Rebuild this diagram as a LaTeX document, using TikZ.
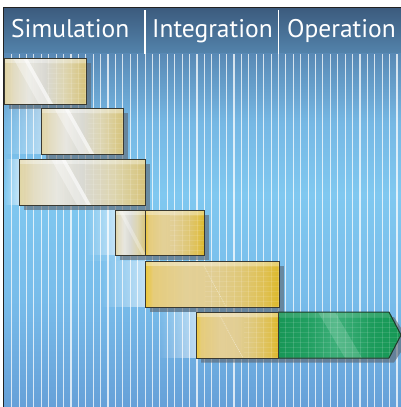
\documentclass[tikz,border=0pt]{standalone}
\usepackage{fontspec}
\setmainfont{PT Sans}
\usetikzlibrary{fadings}
\definecolor{frame}{HTML}{222222}
\definecolor{barline}{HTML}{3A3A32}
\definecolor{shadowc}{HTML}{5E6670}
\definecolor{greenline}{HTML}{1E3A28}
% body
\definecolor{bA}{HTML}{66A0D8}\definecolor{bB}{HTML}{78BCEA}\definecolor{bC}{HTML}{80C8F0}
\definecolor{bD}{HTML}{76B8E4}\definecolor{bE}{HTML}{5888B4}
% header
\definecolor{hA}{HTML}{5282AA}\definecolor{hB}{HTML}{3C5B7E}
% pale bar
\definecolor{pA}{HTML}{E6D6A0}\definecolor{pB}{HTML}{EAE2C6}\definecolor{pC}{HTML}{EEECE4}
\definecolor{pD}{HTML}{E0DED6}\definecolor{pE}{HTML}{E4DAB2}\definecolor{pF}{HTML}{DEC87A}
% gold bar
\definecolor{gA}{HTML}{F2C830}\definecolor{gB}{HTML}{ECD07A}\definecolor{gC}{HTML}{EAD496}
\definecolor{gD}{HTML}{E8D294}\definecolor{gE}{HTML}{E6CC78}\definecolor{gF}{HTML}{E6C44C}
\definecolor{gG}{HTML}{E4BC24}
% green bar
\definecolor{nA}{HTML}{179656}\definecolor{nB}{HTML}{22A062}\definecolor{nC}{HTML}{3CAE78}
\definecolor{nD}{HTML}{30A86E}\definecolor{nE}{HTML}{1C9C5C}\definecolor{nF}{HTML}{169855}
\pgfdeclareverticalshading{bodysh}{100bp}{%
  color(0bp)=(bA); color(25bp)=(bA); color(40bp)=(bB);
  color(55bp)=(bC); color(65bp)=(bD); color(75bp)=(bE); color(100bp)=(bE)}
\pgfdeclareverticalshading{headsh}{100bp}{%
  color(0bp)=(hA); color(25bp)=(hA); color(75bp)=(hB); color(100bp)=(hB)}
\pgfdeclarehorizontalshading{palebar}{100bp}{%
  color(0bp)=(pA); color(25bp)=(pA); color(31bp)=(pB);
  color(40bp)=(pC); color(50bp)=(pD); color(62bp)=(pE);
  color(75bp)=(pF); color(100bp)=(pF)}
\pgfdeclarehorizontalshading{goldbar}{100bp}{%
  color(0bp)=(gA); color(25bp)=(gA); color(28bp)=(gB);
  color(40bp)=(gC); color(50bp)=(gD); color(60bp)=(gE);
  color(70bp)=(gF); color(75bp)=(gG); color(100bp)=(gG)}
\pgfdeclarehorizontalshading{greenbar}{100bp}{%
  color(0bp)=(nA); color(25bp)=(nA); color(38bp)=(nB);
  color(48bp)=(nC); color(55bp)=(nD); color(63bp)=(nE);
  color(75bp)=(nF); color(100bp)=(nF)}
\tikzfading[name=fadeleft, left color=transparent!100, right color=transparent!0]
\tikzset{
  stripe/.style={white, line width=1.1pt, opacity=0.75},
  divider/.style={white, line width=1.3pt},
  head/.style={anchor=base west, inner sep=0pt, text=white, font=\fontsize{25.5}{28}\selectfont},
  shadowbox/.style={fill=shadowc, fill opacity=0.62},
  barbox/.style={draw=barline, line width=1pt},
  trail/.style={fill=white, path fading=fadeleft, fill opacity=0.55},
  gloss/.style={fill=white},
  gridline/.style={white, line width=0.8pt, opacity=0.14},
}
% grid overlay on the right part of a bar: x-start y1 x2 y2
\newcommand{\bargrid}[4]{%
  \pgfmathsetmacro{\gxs}{#1}%
  \pgfmathsetmacro{\gxe}{#3}%
  \foreach \k in {0,...,52} {
    \pgfmathsetmacro{\xx}{11.7+7.41*\k}
    \ifdim\xx pt>\gxs pt\ifdim\xx pt<\gxe pt
      \draw[gridline] (\xx,#2) -- (\xx,#4);
    \fi\fi
  }
  \foreach \yy in {5,10,...,45} {
    \draw[gridline, opacity=0.1] (\gxs,#2+\yy) -- (\gxe,#2+\yy);
  }
}
\newcommand{\ganttbar}[6]{% x1 y1 x2 y2 shading gloss-offset
  \fill[shadowbox] (#1+5,#2+5) rectangle (#3+5,#4+4.5);
  \shade[shading=#5, fill opacity=0.95] (#1,#2) rectangle (#3,#4);
  \begin{scope}
    \clip (#1,#2) rectangle (#3,#4);
    \fill[white, fill opacity=0.3] (#1,#2) rectangle (#3,#2+5);
    \fill[gloss, fill opacity=0.35] (#1+#6-14,#2) -- (#1+#6,#2) -- (#1+#6+26,#4) -- (#1+#6+12,#4) -- cycle;
    \fill[gloss, fill opacity=0.5] (#1+#6-4,#2) -- (#1+#6,#2) -- (#1+#6+26,#4) -- (#1+#6+22,#4) -- cycle;
    \bargrid{#1+#6+20}{#2}{#3}{#4}
  \end{scope}
}
\begin{document}
\begin{tikzpicture}[x=1pt,y=-1pt]
\useasboundingbox (0,0) rectangle (401,407);
\fill[white] (0,0) rectangle (401,407);
% body and header
\shade[shading=bodysh] (3.5,52) rectangle (401,407);
\shade[shading=headsh] (3.5,7.5) rectangle (401,52);
% stripes
\foreach \k in {0,...,52} {
  \draw[stripe] ({11.7+7.41*\k},54) -- ({11.7+7.41*\k},407);
}
\draw[divider] (145.1,10) -- (145.1,54);
\draw[divider] (278.5,10) -- (278.5,54);
% header labels
\node[head] (sim) at (11,37.5) {Simulation};
\node[head] (int) at (152,37.5) {Integration};
\node[head] (op) at (287,37.5) {Operation};
% trails
\fill[trail, fill opacity=0.45] (4,108) rectangle (41,154);
\fill[trail] (4,159) rectangle (19,205);
\fill[trail] (85,210) rectangle (115,255);
\fill[trail, fill opacity=0.3] (80,255) rectangle (145,261);
\fill[trail] (100,261) rectangle (145,307);
\fill[trail] (158,312) rectangle (196,358);
% bars
\ganttbar{4}{58}{86}{104}{palebar}{23}
\draw[barbox] (4,58) rectangle (86,104);
\ganttbar{41}{108}{123}{154}{palebar}{27}
\draw[barbox] (41,108) rectangle (123,154);
\ganttbar{19}{159}{145}{205}{palebar}{46}
\draw[barbox] (19,159) rectangle (145,205);
% bar 4 (two parts)
\fill[shadowbox] (120,215) rectangle (209,259.5);
\shade[shading=palebar, fill opacity=0.95] (115,210) rectangle (145,255);
\shade[shading=goldbar, fill opacity=0.95] (145,210) rectangle (204,255);
\begin{scope}
  \clip (115,210) rectangle (204,255);
  \fill[white, fill opacity=0.3] (115,210) rectangle (204,215);
  \fill[gloss, fill opacity=0.3] (118,210) -- (122,210) -- (146,255) -- (142,255) -- cycle;
  \bargrid{170}{210}{204}{255}
\end{scope}
\draw[barbox] (115,210) rectangle (204,255) (145,210) -- (145,255);
% bar 5
\fill[shadowbox] (150,266) rectangle (284,311.5);
\shade[shading=goldbar, fill opacity=0.95] (145,261) rectangle (279,307);
\begin{scope}
  \clip (145,261) rectangle (279,307);
  \fill[white, fill opacity=0.3] (145,261) rectangle (279,266);
  \draw[white, opacity=0.5, line width=0.6pt, dash pattern=on 1pt off 1pt] (204,266) -- (226,307);
  \bargrid{205}{261}{279}{307}
\end{scope}
\draw[barbox] (145,261) rectangle (279,307);
% bar 6 + green arrow
\fill[shadowbox] (201,317) -- (394,317) -- (401,328) -- (401,352) -- (394,362.5) -- (201,362.5) -- cycle;
\shade[shading=goldbar, fill opacity=0.95] (196,312) rectangle (278,358);
\shade[shading=greenbar] (278,312) -- (389,312) -- (401,335) -- (389,358) -- (278,358) -- cycle;
\begin{scope}
  \clip (196,312) -- (389,312) -- (401,335) -- (389,358) -- (196,358) -- cycle;
  \fill[white, fill opacity=0.3] (196,312) rectangle (278,317);
  \fill[white, fill opacity=0.12] (278,312) rectangle (389,317);
  \draw[white, opacity=0.5, line width=0.6pt, dash pattern=on 1pt off 1pt] (220,316) -- (243,358);
  \fill[gloss, fill opacity=0.15] (318,312) -- (335,312) -- (362,358) -- (345,358) -- cycle;
  \bargrid{244}{312}{278}{358}
  \bargrid{280}{312}{400}{358}
\end{scope}
\draw[greenline, line width=1pt] (278,312) -- (389,312) -- (401,335) -- (389,358) -- (278,358);
\draw[barbox] (196,312) rectangle (278,358);
% frame
\draw[frame, line width=1.2pt] (3.5,407) -- (3.5,7.5) -- (401,7.5);
\end{tikzpicture}
\end{document}
